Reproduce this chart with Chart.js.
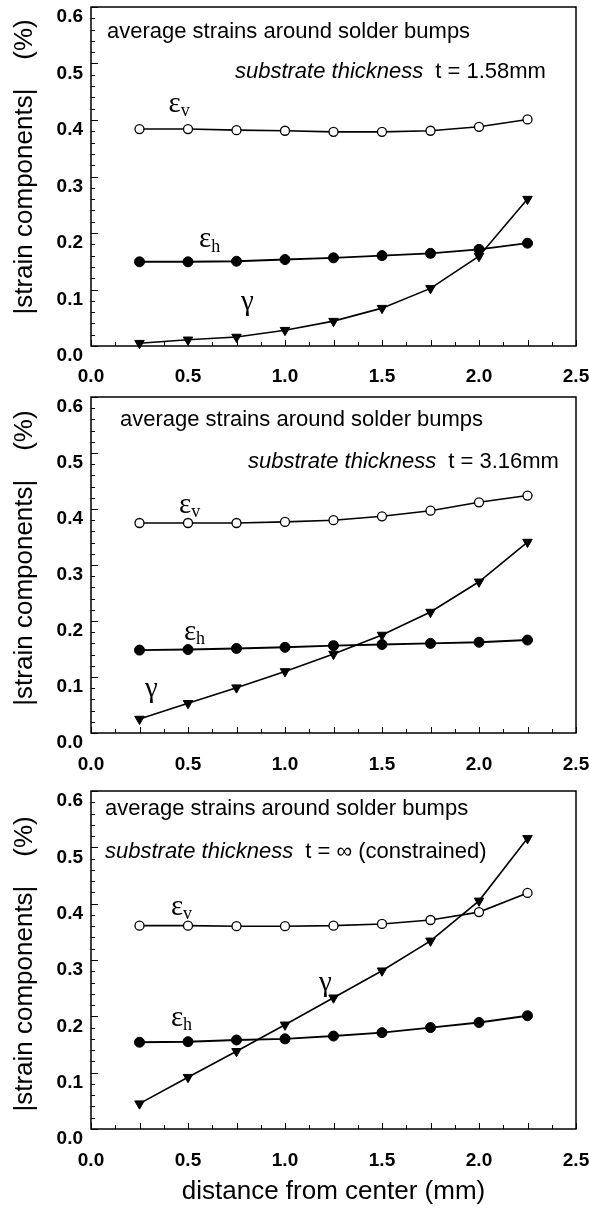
<!DOCTYPE html>
<html>
<head>
<meta charset="utf-8">
<script src="https://cdn.jsdelivr.net/npm/chart.js@4.4.1/dist/chart.umd.min.js"></script>
<style>
  body { margin: 0; background: #fff; width: 589px; height: 1209px; position: relative; overflow: hidden; }
  .panel { position: absolute; left: 0; width: 589px; }
</style>
</head>
<body>
<div class="panel" style="top:-5px"><canvas id="c1" width="589" height="390"></canvas></div>
<div class="panel" style="top:385px"><canvas id="c2" width="589" height="394"></canvas></div>
<div class="panel" style="top:779px"><canvas id="c3" width="589" height="430"></canvas></div>
<script>
// distance from center (mm)
const distance = [0.25, 0.5, 0.75, 1.0, 1.25, 1.5, 1.75, 2.0, 2.25];
const xTicks = [0, 0.5, 1.0, 1.5, 2.0, 2.5];
const yTicks = [0, 0.1, 0.2, 0.3, 0.4, 0.5, 0.6];

// t = 1.58mm
const epsV_158 = [0.384, 0.384, 0.382, 0.381, 0.379, 0.379, 0.381, 0.388, 0.401];
const epsH_158 = [0.149, 0.149, 0.150, 0.153, 0.156, 0.160, 0.164, 0.171, 0.182];
const gamma_158 = [0.005, 0.011, 0.016, 0.028, 0.044, 0.067, 0.102, 0.159, 0.260];

// t = 3.16mm
const epsV_316 = [0.375, 0.375, 0.375, 0.377, 0.380, 0.387, 0.397, 0.412, 0.424];
const epsH_316 = [0.148, 0.149, 0.151, 0.153, 0.156, 0.158, 0.160, 0.162, 0.166];
const gamma_316 = [0.025, 0.053, 0.081, 0.110, 0.141, 0.175, 0.216, 0.270, 0.341];

// t = infinity (constrained)
const epsV_inf = [0.361, 0.361, 0.360, 0.360, 0.361, 0.364, 0.371, 0.385, 0.419];
const epsH_inf = [0.154, 0.155, 0.158, 0.160, 0.165, 0.171, 0.180, 0.189, 0.201];
const gamma_inf = [0.045, 0.092, 0.138, 0.185, 0.233, 0.281, 0.334, 0.405, 0.516];

const headerText = 'average strains around solder bumps';
const yTitle = '|strain components|    (%)';
const xTitle = 'distance from center (mm)';

const SANS = '"Liberation Sans", Arial, Helvetica, sans-serif';
const SERIF = '"Liberation Serif", "Times New Roman", serif';

function line(ctx, x1, y1, x2, y2) {
    ctx.beginPath();
    ctx.moveTo(x1, y1);
    ctx.lineTo(x2, y2);
    ctx.stroke();
}

// box, inside ticks and the text that sits in the plot
const framePlugin = {
    id: 'frame',
    afterDraw(chart, args, o) {
        const { ctx, chartArea: a, scales: { x, y } } = chart;
        ctx.save();
        ctx.strokeStyle = '#000';
        ctx.lineWidth = 1.5;
        ctx.strokeRect(a.left, a.top, a.right - a.left, a.bottom - a.top);

        ctx.lineWidth = 1;
        for (let i = 0; i <= 30; i++) {
            const py = Math.round(y.getPixelForValue(i * 0.02)) + 0.5;
            line(ctx, a.left, py, a.left + (i % 5 === 0 ? 7 : 4), py);
        }
        for (let i = 0; i <= 20; i++) {
            const px = Math.round(x.getPixelForValue(i * 0.125)) + 0.5;
            line(ctx, px, a.bottom, px, a.bottom - (i % 2 === 0 ? 6 : 4));
        }

        ctx.fillStyle = '#000';
        ctx.textBaseline = 'middle';

        // y axis title
        ctx.save();
        ctx.translate(25, y.getPixelForValue(o.yTitleAt));
        ctx.rotate(-Math.PI / 2);
        ctx.textAlign = 'center';
        ctx.font = '26px ' + SANS;
        ctx.fillText(yTitle, 0, 0);
        ctx.restore();

        ctx.textAlign = 'left';
        ctx.font = '22px ' + SANS;
        ctx.fillText(headerText, x.getPixelForValue(o.header[0]), y.getPixelForValue(o.header[1]));

        const it = 'substrate thickness';
        ctx.font = 'italic 22px ' + SANS;
        const w1 = ctx.measureText(it).width;
        ctx.font = '22px ' + SANS;
        const w2 = ctx.measureText(o.thickness).width;
        const gap = 12;
        let tx = x.getPixelForValue(o.thick[0]);
        if (o.thickAlign === 'right') tx -= w1 + gap + w2;
        const ty = y.getPixelForValue(o.thick[1]);
        ctx.font = 'italic 22px ' + SANS;
        ctx.fillText(it, tx, ty);
        ctx.font = '22px ' + SANS;
        ctx.fillText(o.thickness, tx + w1 + gap, ty);

        // curve labels
        o.labels.forEach(l => {
            const lx = x.getPixelForValue(l.at[0]);
            const ly = y.getPixelForValue(l.at[1]);
            ctx.font = '29px ' + SERIF;
            ctx.fillText(l.text, lx, ly);
            if (l.sub) {
                const w = ctx.measureText(l.text).width;
                ctx.font = '18px ' + SERIF;
                ctx.fillText(l.sub, lx + w, ly + 7);
            }
        });
        ctx.restore();
    }
};

function makePanel(canvasId, ev, eh, g, o) {
    const ctx = document.getElementById(canvasId);
    return new Chart(ctx, {
        type: 'line',
        data: {
            labels: distance,
            datasets: [
                {
                    data: ev.map((v, i) => ({ x: distance[i], y: v })),
                    borderColor: '#000', borderWidth: 1.6,
                    pointStyle: 'circle', pointRadius: 4.5,
                    pointBackgroundColor: '#fff', pointBorderColor: '#000', pointBorderWidth: 1.3
                },
                {
                    data: eh.map((v, i) => ({ x: distance[i], y: v })),
                    borderColor: '#000', borderWidth: 1.9,
                    pointStyle: 'circle', pointRadius: 5,
                    pointBackgroundColor: '#000', pointBorderColor: '#000', pointBorderWidth: 1
                },
                {
                    data: g.map((v, i) => ({ x: distance[i], y: v })),
                    borderColor: '#000', borderWidth: 1.6,
                    pointStyle: 'triangle', pointRotation: 180, pointRadius: 5.5,
                    pointBackgroundColor: '#000', pointBorderColor: '#000', pointBorderWidth: 1
                }
            ]
        },
        options: {
            responsive: false,
            animation: false,
            clip: false,
            layout: { padding: { top: 12, right: 13, bottom: 0, left: 0 } },
            plugins: {
                legend: { display: false },
                tooltip: { enabled: false },
                frame: o
            },
            scales: {
                x: {
                    type: 'linear', min: 0, max: 2.5,
                    afterBuildTicks: s => { s.ticks = xTicks.map(v => ({ value: v })); },
                    afterFit: s => { s.height = o.xHeight; s.paddingLeft = 0; s.paddingRight = 0; },
                    grid: { display: false, drawTicks: false },
                    border: { display: false },
                    ticks: {
                        padding: o.xPad, color: '#000',
                        font: { family: SANS, size: 19, weight: 'bold' },
                        callback: v => v.toFixed(1)
                    },
                    title: {
                        display: !!o.xTitle, text: xTitle, color: '#000',
                        font: { family: SANS, size: 26 }, padding: { top: 0, bottom: 2 }
                    }
                },
                y: {
                    min: 0, max: 0.6,
                    afterBuildTicks: s => { s.ticks = yTicks.map(v => ({ value: v })); },
                    afterFit: s => { s.width = 91; s.paddingTop = 0; s.paddingBottom = 0; },
                    grid: { display: false, drawTicks: false },
                    border: { display: false },
                    ticks: {
                        padding: 8, labelOffset: 10, color: '#000',
                        font: { family: SANS, size: 19, weight: 'bold' },
                        callback: v => v.toFixed(1)
                    }
                }
            }
        },
        plugins: [framePlugin]
    });
}

makePanel('c1', epsV_158, epsH_158, gamma_158, {
    xHeight: 39, xPad: 19, yTitleAt: 0.317,
    header: [0.082, 0.556], thickness: 't = 1.58mm', thick: [2.345, 0.485], thickAlign: 'right',
    labels: [
        { text: 'ε', sub: 'v', at: [0.40, 0.427] },
        { text: 'ε', sub: 'h', at: [0.557, 0.188] },
        { text: 'γ', at: [0.773, 0.078] }
    ]
});
makePanel('c2', epsV_316, epsH_316, gamma_316, {
    xHeight: 46, xPad: 20, yTitleAt: 0.3125,
    header: [0.149, 0.559], thickness: 't = 3.16mm', thick: [2.412, 0.484], thickAlign: 'right',
    labels: [
        { text: 'ε', sub: 'v', at: [0.454, 0.407] },
        { text: 'ε', sub: 'h', at: [0.479, 0.179] },
        { text: 'γ', at: [0.278, 0.077] }
    ]
});
makePanel('c3', epsV_inf, epsH_inf, gamma_inf, {
    xHeight: 80, xPad: 20, yTitleAt: 0.293, xTitle: true,
    header: [0.072, 0.568], thickness: 't = ∞ (constrained)', thick: [0.072, 0.492], thickAlign: 'left',
    labels: [
        { text: 'ε', sub: 'v', at: [0.412, 0.393] },
        { text: 'ε', sub: 'h', at: [0.412, 0.197] },
        { text: 'γ', at: [1.175, 0.259] }
    ]
});
</script>
</body>
</html>
